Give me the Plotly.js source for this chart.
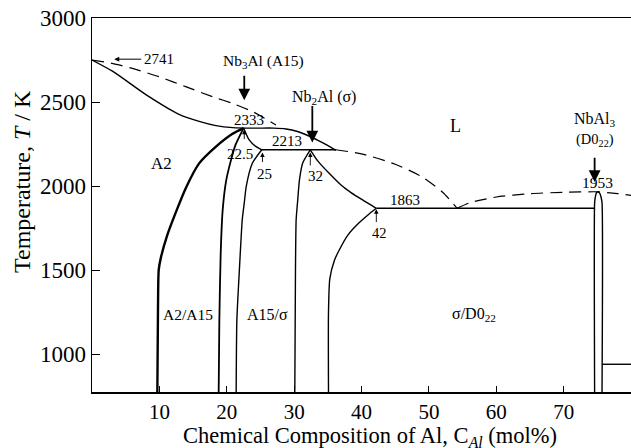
<!DOCTYPE html>
<html><head><meta charset="utf-8">
<script src="https://cdn.plot.ly/plotly-3.0.1.min.js"></script>
<style>html,body{margin:0;padding:0;background:#fff}</style>
</head><body><div id="chart" style="width:631px;height:448px"></div>
<script>
// Boundary curves (x = Al mol%, T = K)
const liqUpperDashX = [0, 3, 6, 10, 14, 18, 21, 24, 27.3];
const liqUpperDashT = [2750, 2730, 2700, 2650, 2590, 2530, 2490, 2440, 2363];
const liqSolidX = [0, 3.1, 8.0, 13.0, 15.9, 18.4, 20.9, 24, 27, 28.8, 30.5, 32.2, 34.2, 36.2];
const liqSolidT = [2750, 2682, 2544, 2425, 2385, 2360, 2348, 2345, 2345, 2340, 2325, 2298, 2258, 2213];
const a2BoundX = [9.7, 9.8, 9.9, 10.2, 11.1, 12.6, 14.0, 15.9, 18.4, 20.8, 22.5];
const a2BoundT = [775, 1300, 1500, 1570, 1700, 1860, 1995, 2135, 2235, 2310, 2345];
const a15LeftX = [18.8, 18.9, 19.1, 19.4, 19.9, 20.6, 21.3, 22.5];
const a15LeftT = [775, 1200, 1600, 1860, 2030, 2150, 2245, 2345];
const a15TopX = [22.5, 23.3, 24.3, 25.2];
const a15TopT = [2345, 2276, 2236, 2216];
const a15RightX = [21.4, 21.5, 21.9, 22.3, 22.6, 22.9, 23.8, 25.2];
const a15RightT = [775, 1200, 1520, 1800, 1900, 2000, 2136, 2216];
const peri2213X = [25.2, 36.2];
const peri2213T = [2216, 2216];
const sigLeftX = [30.1, 30.2, 30.3, 30.5, 30.8, 31.3, 32.4];
const sigLeftT = [775, 1500, 1800, 1900, 2040, 2140, 2216];
const sigTopX = [32.4, 33.5, 35.2, 37.0, 38.5, 40.1, 42.2];
const sigTopT = [2216, 2150, 2076, 2005, 1960, 1919, 1868];
const sigRightX = [35.1, 35.1, 35.3, 36.0, 36.7, 38.0, 39.6, 41.0, 42.2];
const sigRightT = [775, 1250, 1450, 1560, 1620, 1710, 1780, 1830, 1868];
const eut1863X = [42.2, 74.6];
const eut1863T = [1868, 1868];
const liqMidDashX = [36.2, 40, 45, 49, 52, 54.2];
const liqMidDashT = [2216, 2192, 2130, 2055, 1965, 1868];
const liqRightDashX = [54.2, 56, 60, 65, 70, 75.1, 78, 80];
const liqRightDashT = [1868, 1900, 1935, 1955, 1963, 1966, 1955, 1945];
const d022X = [74.6, 74.6, 74.7, 74.85, 75.1, 75.35, 75.55, 75.7, 75.7];
const d022T = [775, 1900, 1935, 1958, 1966, 1958, 1935, 1900, 775];
const lowRightX = [75.7, 80];
const lowRightT = [940, 940];

const xTicks = [10, 20, 30, 40, 50, 60, 70];
const yTicks = [1000, 1500, 2000, 2500, 3000];

const serif = 'Liberation Serif, Times New Roman, serif';
function solid(x, y, w) {
  return {x: x, y: y, type: 'scatter', mode: 'lines', line: {color: '#000', width: w || 1.4, shape: 'spline', smoothing: 0.6}, hoverinfo: 'skip', showlegend: false};
}
function dashed(x, y) {
  return {x: x, y: y, type: 'scatter', mode: 'lines', line: {color: '#000', width: 1.2, dash: '12px,7px', shape: 'spline', smoothing: 0.6}, hoverinfo: 'skip', showlegend: false};
}
const traces = [
  dashed(liqUpperDashX, liqUpperDashT),
  solid(liqSolidX, liqSolidT),
  solid(a2BoundX, a2BoundT, 2.4),
  solid(a15LeftX, a15LeftT, 1.8),
  solid(a15TopX, a15TopT),
  solid(a15RightX, a15RightT),
  solid(peri2213X, peri2213T),
  solid(sigLeftX, sigLeftT),
  solid(sigTopX, sigTopT),
  solid(sigRightX, sigRightT),
  solid(eut1863X, eut1863T),
  dashed(liqMidDashX, liqMidDashT),
  dashed(liqRightDashX, liqRightDashT),
  solid(d022X, d022T),
  solid(lowRightX, lowRightT)
];

function txt(x, y, text, size) {
  return {x: x, y: y, xref: 'x', yref: 'y', text: text, showarrow: false, font: {family: serif, size: size || 15, color: '#000'}};
}
function arrow(hx, hy, tx, ty, w, head, sz) {
  return {x: hx, y: hy, ax: tx, ay: ty, xref: 'x', yref: 'y', axref: 'x', ayref: 'y', text: ' ', showarrow: true,
    font: {size: 2}, arrowhead: head, arrowsize: sz, arrowwidth: w, arrowcolor: '#000', standoff: 0, startstandoff: 0};
}
const annotations = [
  txt(9.9, 2755, '2741', 15),
  txt(25.5, 2740, 'Nb<sub>3</sub>Al (A15)', 15.5),
  txt(34.4, 2526, 'Nb<sub>2</sub>Al (σ)', 16),
  txt(54.0, 2355, 'L', 18),
  txt(74.7, 2395, 'NbAl<sub>3</sub>', 16),
  txt(74.7, 2276, '(D0<sub>22</sub>)', 14.5),
  txt(75.1, 2020, '1953', 15.5),
  txt(23.3, 2391, '2333', 15),
  txt(29.0, 2266, '2213', 15),
  txt(21.9, 2193, '22.5', 15),
  txt(25.6, 2074, '25', 15),
  txt(33.2, 2062, '32', 15),
  txt(46.4, 1919, '1863', 15),
  txt(42.6, 1719, '42', 14.5),
  txt(10.3, 2136, 'A2', 17),
  txt(14.2, 1235, 'A2/A15', 15.5),
  txt(26.0, 1235, 'A15/σ', 16),
  txt(56.7, 1235, 'σ/D0<sub>22</sub>', 16),
  arrow(3.3, 2755, 7.6, 2755, 1, 2, 1),
  arrow(22.6, 2510, 22.6, 2675, 1.8, 2, 1.3),
  arrow(32.7, 2260, 32.7, 2495, 1.8, 2, 1.3),
  arrow(74.6, 2025, 74.6, 2186, 1.8, 2, 1.3),
  arrow(22.6, 2335, 22.6, 2262, 0.9, 2, 1),
  arrow(25.3, 2200, 25.3, 2125, 0.9, 2, 1),
  arrow(32.4, 2200, 32.4, 2105, 0.9, 2, 1),
  arrow(42.2, 1862, 42.2, 1768, 0.9, 2, 1),
  {xref: 'paper', yref: 'paper', x: 0.516, y: -0.12, yanchor: 'middle', xanchor: 'center', showarrow: false,
   text: 'Chemical Composition of Al, C<sub><i>Al</i></sub> (mol%)', font: {family: serif, size: 22.5, color: '#000'}},
  {xref: 'paper', yref: 'paper', x: -0.13, y: 0.564, textangle: -90, xanchor: 'center', yanchor: 'middle', showarrow: false,
   text: 'Temperature, <i>T</i> / K', font: {family: serif, size: 24, color: '#000'}}
];

const layout = {
  width: 631, height: 448,
  margin: {l: 92, r: 0, t: 18, b: 56},
  paper_bgcolor: '#fff', plot_bgcolor: '#fff',
  showlegend: false,
  xaxis: {range: [0, 80], tickvals: xTicks, ticks: 'inside', ticklen: 6, tickwidth: 1, tickcolor: '#000',
    showline: true, linecolor: '#000', linewidth: 1.5, mirror: true, showgrid: false, zeroline: false,
    tickfont: {family: serif, size: 21, color: '#000'}},
  yaxis: {range: [775, 3000], tickvals: yTicks, ticks: 'inside', ticklen: 8, tickwidth: 1, tickcolor: '#000',
    showline: true, linecolor: '#000', linewidth: 1.5, showgrid: false, zeroline: false,
    tickfont: {family: serif, size: 23, color: '#000'}},
  annotations: annotations
};
Plotly.newPlot('chart', traces, layout, {staticPlot: true, displayModeBar: false});
</script></body></html>
